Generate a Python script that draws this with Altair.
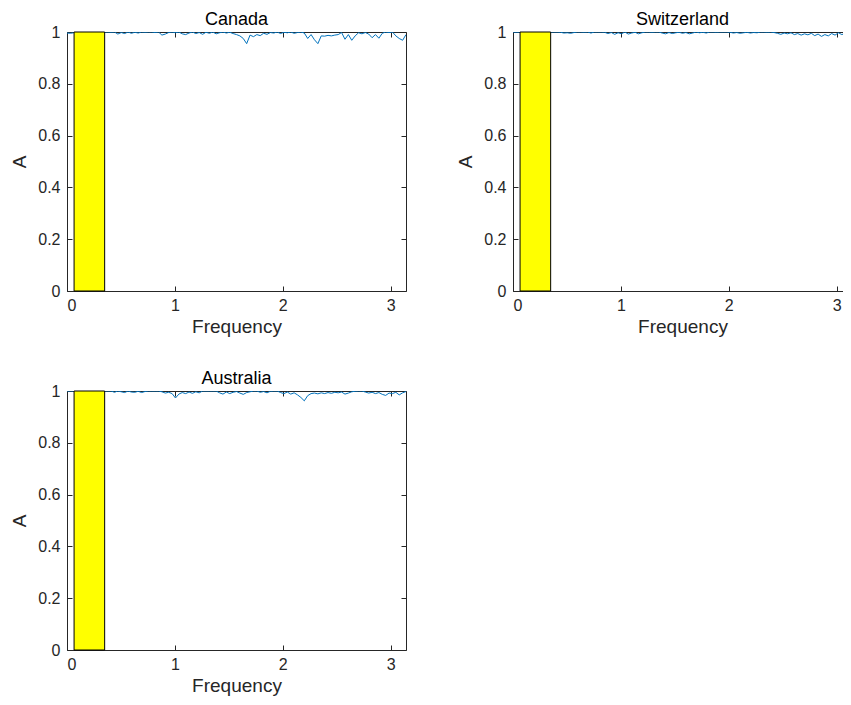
import math
import altair as alt
import pandas as pd

# frequency grid: 0 .. pi in 100 steps
N_STEPS = 100
freq = [i * math.pi / N_STEPS for i in range(N_STEPS + 1)]

canada = [
    0.996, 0.995, 0.997, 0.999, 1.0, 0.999, 1.0, 0.999, 1.0, 1.0, 0.999, 1.0,
    1.0, 0.999, 1.0,
    0.992, 0.998, 0.994, 1.0, 0.995, 0.999, 0.996,
    1.0, 0.999, 1.0, 1.0, 0.998, 1.0,
    0.988, 0.992, 0.998,
    1.0, 0.997, 1.0,
    0.993, 0.99, 0.996,
    1.0, 0.994, 0.998, 0.991, 0.999, 0.995, 1.0, 0.993, 0.997, 1.0,
    0.996, 0.999, 0.994, 0.99,
    0.985, 0.975, 0.955,
    0.988, 0.982, 0.99,
    0.986, 0.995, 0.991, 0.998,
    0.996, 1.0, 0.994, 0.999, 0.997, 1.0, 0.995, 0.998, 1.0, 0.996,
    0.975, 0.99, 0.97, 0.955, 0.985,
    0.984, 0.987, 0.985, 0.988, 0.99, 0.998,
    0.972, 0.99, 0.968, 0.985, 0.997,
    0.993, 0.998, 0.992,
    0.978, 0.99, 0.976, 0.995,
    1.0, 0.998, 1.0,
    0.985, 0.975, 0.968, 0.99,
]

switzerland = [
    1.0, 0.999, 1.0, 1.0, 1.0, 1.0, 1.0, 1.0, 1.0, 1.0, 1.0, 1.0,
    1.0, 1.0, 0.999,
    0.996, 0.997, 0.995, 0.998,
    1.0, 1.0, 0.999, 1.0,
    0.996, 1.0,
    1.0, 1.0, 0.999,
    0.994, 0.998, 0.991, 0.997, 0.993, 1.0, 0.992, 0.996, 0.999, 0.993, 0.997,
    1.0, 1.0, 0.999, 1.0, 1.0,
    0.996, 0.993, 0.998, 0.994, 0.997, 0.999, 0.995, 0.998, 0.993, 0.996, 1.0, 0.997, 0.999, 0.996,
    1.0, 1.0, 0.999, 1.0, 1.0, 1.0, 0.999,
    0.996, 0.998, 0.995, 0.997, 0.999, 0.996, 0.998, 0.997,
    1.0, 1.0, 0.999, 1.0, 0.998,
    0.995, 0.991, 0.996, 0.993, 0.997, 0.99, 0.994, 0.988, 0.993, 0.989, 0.995, 0.986,
    0.992, 0.983, 0.99, 0.985, 0.994, 0.988, 0.997, 0.99, 0.995, 0.987, 0.993,
]

australia = [
    1.0, 1.0, 1.0, 1.0, 1.0, 1.0, 1.0, 1.0, 1.0, 1.0, 1.0, 1.0,
    1.0, 1.0,
    0.995, 1.0, 0.997, 0.994, 1.0, 0.996, 0.995, 0.999, 0.994, 0.998,
    1.0, 1.0, 1.0, 1.0,
    0.997, 0.992, 0.995, 0.99, 0.973, 0.988, 0.994, 0.99, 0.996, 0.991, 0.997, 0.993,
    1.0, 1.0, 1.0, 1.0, 1.0,
    0.993, 0.988, 0.996, 0.99, 0.995, 0.998, 0.992, 0.987, 0.994, 0.997,
    1.0, 1.0,
    0.995, 0.998, 0.993, 0.999,
    1.0, 1.0,
    0.994, 0.99, 0.996, 0.988, 0.993, 0.985, 0.975, 0.962, 0.982, 0.99, 0.992, 0.989,
    0.993, 0.99, 0.994, 0.991, 0.995, 0.993, 0.996, 0.988, 0.992, 0.997, 0.999,
    1.0, 1.0,
    0.996, 0.992, 0.995, 0.99, 0.994, 0.987, 0.983, 0.992, 0.99, 0.995, 0.985, 0.993, 0.998,
]

# business-cycle band (18 to 96 months)
band_lo = 2 * math.pi / 96
band_hi = 2 * math.pi / 18

x_ticks = [0, 1, 2, 3]
y_ticks = [0, 0.2, 0.4, 0.6, 0.8, 1.0]

FONT = "Liberation Sans"
AX = "#262626"
W, H = 339, 259
TICK = 5


def panel(name, values):
    df = pd.DataFrame({"freq": freq, "A": values})
    band = pd.DataFrame({"lo": [band_lo], "hi": [band_hi], "ylo": [0.0], "yhi": [1.0]})
    xs = alt.Scale(domain=[0, math.pi], nice=False, zero=False)
    ys = alt.Scale(domain=[0, 1], nice=False)
    line = alt.Chart(df).mark_line(color="#0072BD", strokeWidth=1, clip=True).encode(
        x=alt.X("freq:Q", scale=xs, title="Frequency",
                axis=alt.Axis(orient="bottom", values=x_ticks, format="~f", offset=-TICK,
                              tickSize=TICK, domain=False, grid=False, labelPadding=6,
                              titlePadding=4, minExtent=0)),
        y=alt.Y("A:Q", scale=ys, title="A",
                axis=alt.Axis(orient="left", values=y_ticks, format=".1~f", offset=-TICK,
                              tickSize=TICK, domain=False, grid=False, labelPadding=7,
                              titlePadding=8, minExtent=0)),
    )
    rect = alt.Chart(band).mark_rect(fill="#FFFF00", stroke="black", strokeWidth=1).encode(
        x=alt.X("lo:Q", scale=xs, title=None,
                axis=alt.Axis(orient="top", values=x_ticks, labels=False, offset=-TICK,
                              tickSize=TICK, domain=False, grid=False, minExtent=0,
                              maxExtent=0)),
        x2="hi:Q",
        y=alt.Y("ylo:Q", scale=ys, title=None,
                axis=alt.Axis(orient="right", values=y_ticks, labels=False, offset=-TICK,
                              tickSize=TICK, domain=False, grid=False, minExtent=0,
                              maxExtent=0)),
        y2="yhi:Q",
    )
    return alt.layer(line, rect).resolve_axis(x="independent", y="independent").properties(
        width=W, height=H,
        title=alt.TitleParams(name, fontSize=18, font=FONT, fontWeight="normal",
                              color="black", offset=-5, anchor="middle"),
    )


chart = alt.concat(
    panel("Canada", canada),
    panel("Switzerland", switzerland),
    panel("Australia", australia),
    columns=2,
    spacing={"row": 100, "column": 107},
    bounds="flush",
).properties(
    padding={"left": 2, "top": 2, "right": -10, "bottom": 0},
    background="white",
).configure_view(
    stroke=AX, strokeWidth=1
).configure_axis(
    labelFont=FONT, titleFont=FONT, labelFontSize=16, titleFontSize=19,
    labelColor=AX, titleColor=AX, tickColor=AX, titleFontWeight="normal",
    tickWidth=1,
)

chart.save("out.html", embed_options={"renderer": "svg", "actions": False})
